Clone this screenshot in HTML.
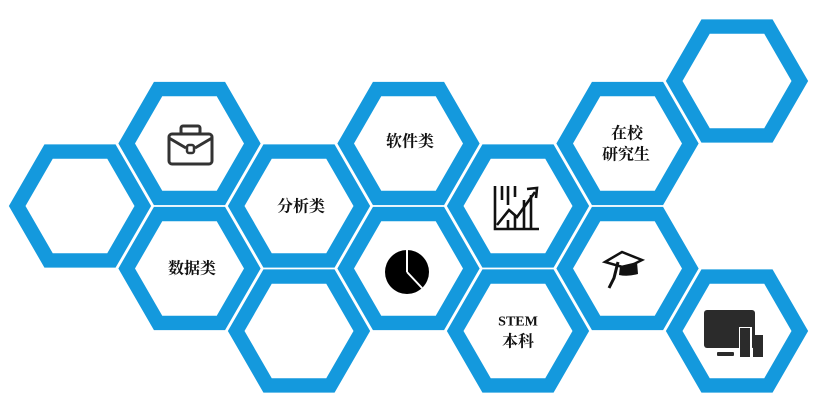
<!DOCTYPE html>
<html><head><meta charset="utf-8"><style>
html,body{margin:0;padding:0;background:#fff;}
svg{display:block}
text{font-family:"Liberation Serif","Noto Serif CJK SC",serif;font-size:16px;font-weight:bold;fill:#111;text-anchor:middle;dominant-baseline:central}
</style></head><body>
<svg width="817" height="413" viewBox="0 0 817 413" xmlns="http://www.w3.org/2000/svg">
<defs>
<polygon id="o" points="-72,0 -36,-62.4 36,-62.4 72,0 36,62.4 -36,62.4" fill="#1499dd" stroke="#fff" stroke-width="1.5"/>
<polygon id="i" points="-54.5,0 -27.25,-47.2 27.25,-47.2 54.5,0 27.25,47.2 -27.25,47.2" fill="#fff"/>
<g id="h"><use href="#o"/><use href="#i"/></g>
</defs>
<use href="#h" x="80" y="206"/>
<use href="#h" x="189.5" y="143.5"/>
<use href="#h" x="189.5" y="268.5"/>
<use href="#h" x="299" y="206"/>
<use href="#h" x="299" y="331"/>
<use href="#h" x="408.5" y="143.5"/>
<use href="#h" x="408.5" y="268.5"/>
<use href="#h" x="518" y="206"/>
<use href="#h" x="518" y="331"/>
<use href="#h" x="627.5" y="143.5"/>
<use href="#h" x="627.5" y="268.5"/>
<use href="#h" x="737" y="81"/>
<use href="#h" x="737" y="331"/>

<text x="301" y="207">分析类</text>
<text x="192" y="269">数据类</text>
<text x="410" y="142">软件类</text>
<text x="627" y="134">在校</text>
<text x="626" y="155">研究生</text>
<text x="518" y="322" style="font-size:14px">STEM</text>
<text x="518" y="342">本科</text>

<!-- briefcase -->
<g fill="none" stroke="#333" stroke-width="3" stroke-linejoin="round">
<rect x="169" y="134" width="43" height="30" rx="3"/>
<rect x="181" y="126" width="19" height="8" rx="2"/>
<path d="M169 138 L186 148 M212 138 L195 148"/>
<rect x="187" y="145" width="7" height="8" rx="2" stroke-width="2.5"/>
</g>

<!-- pie -->
<circle cx="407" cy="272" r="22" fill="#000"/>
<path d="M407 272 L407 249 M407 272 L422 288" stroke="#fff" stroke-width="2"/>

<!-- chart -->
<g stroke="#111" stroke-width="2.6" fill="none">
<path d="M495 186 V229 H539"/>
<path d="M502 186 V200 M508 186 V205 M515 186 V197 M524 200 V229 M531 195 V229 M508 220 V229 M515 215 V229"/>
<path d="M497 225 L509 210 L517 217 L535 192"/>
<path d="M527 189 L537 188 L536 198"/>
</g>

<!-- grad cap -->
<g fill="#111">
<path d="M605 262 L622 252 L642 260 L626 268 Z" fill="none" stroke="#111" stroke-width="2.5"/>
<path d="M620 266 L637 262 L638 274 Q628 277 619 275 Z"/>
<path d="M618 262 L614 278 L609 288" fill="none" stroke="#111" stroke-width="3"/>
</g>

<!-- monitor -->
<g fill="#2b2b2b">
<rect x="704" y="310" width="51" height="38" rx="3"/>
<rect x="739" y="327" width="13" height="30" fill="#fff"/>
<rect x="740" y="328" width="10" height="29"/>
<rect x="753" y="335" width="10" height="22"/>
<rect x="717" y="352" width="17" height="4" rx="1"/>
</g>
</svg>
</body></html>
